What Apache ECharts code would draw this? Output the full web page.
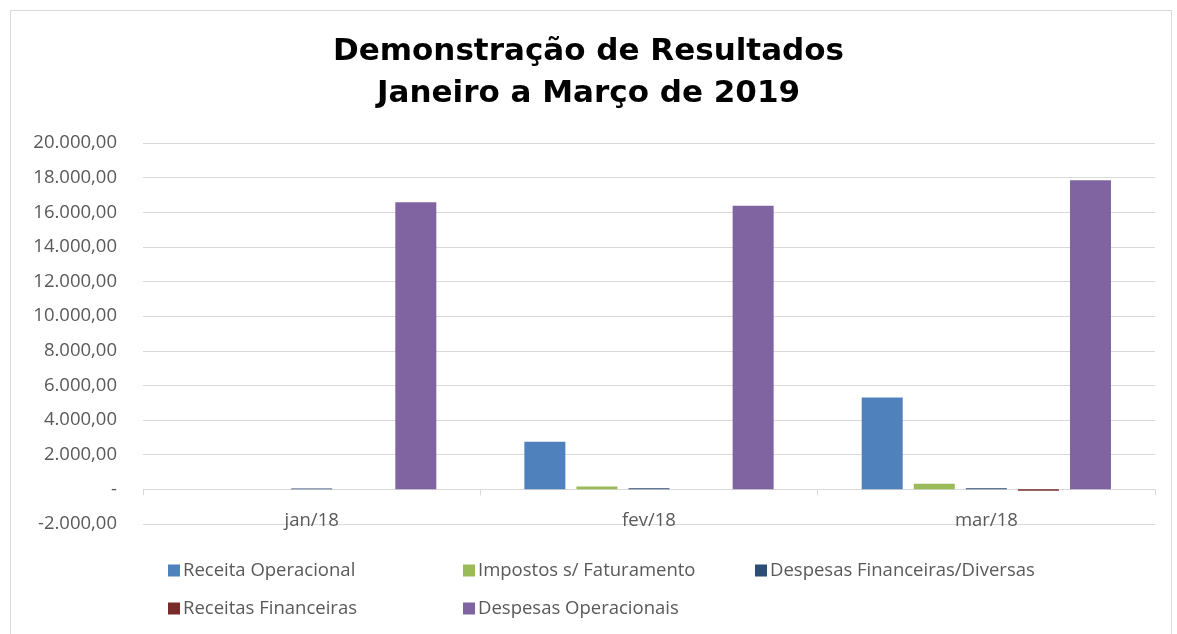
<!DOCTYPE html>
<html>
<head>
<meta charset="utf-8">
<script src="https://cdn.jsdelivr.net/npm/echarts@6/dist/echarts.min.js"></script>
<style>
  html, body { margin: 0; padding: 0; background: #fff; }
  #chart { width: 1177px; height: 634px; }
</style>
</head>
<body>
<div id="chart"></div>
<script>
var categories = ['jan/18', 'fev/18', 'mar/18'];
var receitaOperacional = [0, 2750, 5300];
var impostosFaturamento = [0, 170, 330];
var despesasFinanceiras = [50, 60, 60];
var receitasFinanceiras = [0, 0, -80];
var despesasOperacionais = [16580, 16380, 17850];

var seriesNames = ['Receita Operacional', 'Impostos s/ Faturamento', 'Despesas Financeiras/Diversas',
    'Receitas Financeiras', 'Despesas Operacionais'];

var chart = echarts.init(document.getElementById('chart'));

// formato pt-BR, zero vira "-"
function fmt(v) {
    if (v === 0) return '-';
    var s = Math.abs(v).toFixed(2).split('.');
    var inteiro = s[0].replace(/\B(?=(\d{3})+(?!\d))/g, '.');
    return (v < 0 ? '-' : '') + inteiro + ',' + s[1];
}

var txtColor = '#595959';
var txtFont = 'Open Sans';
var txtSize = 18.5;

// uma legenda por item, para ficar em colunas fixas como no Excel
var legendPos = [[163, 556], [458, 556], [750, 556], [163, 594], [458, 594]];
var legends = seriesNames.map(function (nome, i) {
    return {
        left: legendPos[i][0],
        top: legendPos[i][1],
        itemWidth: 12,
        itemHeight: 12,
        itemGap: 0,
        icon: 'rect',
        textStyle: { color: txtColor, fontSize: txtSize, fontFamily: txtFont, padding: [0, 0, 0, -2] },
        data: [nome]
    };
});

function barSerie(nome, dados, cor) {
    return {
        name: nome,
        type: 'bar',
        data: dados,
        barWidth: 41,
        barGap: '27%',
        itemStyle: { color: cor }
    };
}

chart.setOption({
    animation: false,
    backgroundColor: '#fff',
    title: {
        text: 'Demonstração de Resultados\nJaneiro a Março de 2019',
        left: 'center',
        top: 26,
        textStyle: {
            fontFamily: 'DejaVu Sans',
            fontWeight: 'bold',
            fontSize: 31,
            lineHeight: 42,
            color: '#000'
        }
    },
    graphic: [{
        type: 'rect',
        shape: { x: 10.5, y: 10.5, width: 1161, height: 640 },
        style: { fill: 'none', stroke: '#d9d9d9', lineWidth: 1 },
        silent: true
    }],
    legend: legends,
    grid: {
        left: 143,
        right: 22,
        top: 143,
        bottom: 110
    },
    xAxis: {
        type: 'category',
        data: categories,
        axisLine: { onZero: true, lineStyle: { color: '#d9d9d9', width: 1 } },
        axisTick: { show: true, length: 6, lineStyle: { color: '#d9d9d9' } },
        axisLabel: { color: txtColor, fontSize: txtSize, fontFamily: txtFont, margin: -13 }
    },
    yAxis: {
        type: 'value',
        min: -2000,
        max: 20000,
        interval: 2000,
        axisLine: { show: false },
        axisTick: { show: false },
        splitLine: { lineStyle: { color: '#d9d9d9', width: 1 } },
        axisLabel: {
            color: txtColor,
            fontSize: txtSize,
            fontFamily: txtFont,
            margin: 26,
            formatter: fmt
        }
    },
    series: [
        barSerie(seriesNames[0], receitaOperacional, '#4f81bd'),
        barSerie(seriesNames[1], impostosFaturamento, '#9bbb59'),
        barSerie(seriesNames[2], despesasFinanceiras, '#2c4d75'),
        barSerie(seriesNames[3], receitasFinanceiras, '#772c2a'),
        barSerie(seriesNames[4], despesasOperacionais, '#8064a2')
    ]
});

window.addEventListener('resize', function () {
    chart.resize();
});
</script>
</body>
</html>
